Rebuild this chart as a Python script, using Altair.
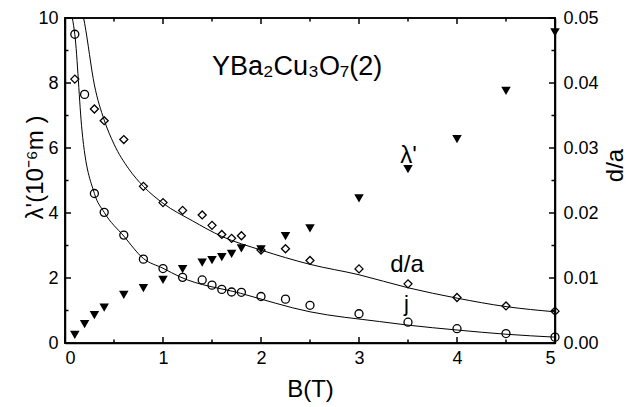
import altair as alt
import pandas as pd

# ---- data ----
lam_B = [0.1, 0.2, 0.3, 0.4, 0.6, 0.8, 1.0, 1.2, 1.4, 1.5, 1.6, 1.7, 1.8, 2.0, 2.25, 2.5, 3.0, 3.5, 4.0, 4.5, 5.0]
lam_v = [0.25, 0.58, 0.86, 1.09, 1.48, 1.69, 1.94, 2.27, 2.47, 2.55, 2.64, 2.74, 2.91, 2.88, 3.29, 3.53, 4.45, 5.35, 6.27, 7.76, 9.56]

j_B = [0.1, 0.2, 0.3, 0.4, 0.6, 0.8, 1.0, 1.2, 1.4, 1.5, 1.6, 1.7, 1.8, 2.0, 2.25, 2.5, 3.0, 3.5, 4.0, 4.5, 5.0]
j_v = [9.5, 7.65, 4.6, 4.02, 3.32, 2.58, 2.29, 2.02, 1.94, 1.78, 1.65, 1.57, 1.56, 1.43, 1.35, 1.16, 0.9, 0.64, 0.44, 0.29, 0.18]

da_B = [0.1, 0.3, 0.4, 0.6, 0.8, 1.0, 1.2, 1.4, 1.5, 1.6, 1.7, 1.8, 2.0, 2.25, 2.5, 3.0, 3.5, 4.0, 4.5, 5.0]
da_v = [0.0406, 0.0360, 0.0342, 0.0313, 0.0241, 0.0216, 0.0204, 0.0197, 0.0181, 0.0167, 0.0161, 0.0165,
        0.0143, 0.0145, 0.0127, 0.0114, 0.0091, 0.0070, 0.0057, 0.0049]

fit_da_B = [0.19, 0.2, 0.3, 0.4, 0.5, 0.65, 0.8, 1.0, 1.3, 1.6, 2.0, 2.5, 3.0, 3.5, 4.0, 4.5, 5.0]
fit_da_v = [0.0500, 0.0492, 0.0397, 0.0343, 0.0306, 0.0268, 0.0241, 0.0215, 0.0188, 0.0164, 0.0143,
            0.0121, 0.0105, 0.0085, 0.0069, 0.0056, 0.0048]
fit_j_B = [0.075, 0.1, 0.173, 0.3, 0.4, 0.6, 0.8, 1.0, 1.17, 1.79, 2.5, 3.21, 3.5, 4.0, 4.5, 5.0]
fit_j_v = [10.0, 9.5, 6.55, 4.6, 4.02, 3.29, 2.6, 2.3, 2.04, 1.53, 0.96, 0.66, 0.55, 0.40, 0.27, 0.18]

x_labels = [0, 1, 2, 3, 4, 5]
x_minor = [0.5, 1.5, 2.5, 3.5, 4.5]
yl_labels = [0, 2, 4, 6, 8, 10]
yl_minor = [1, 3, 5, 7, 9]
yr_labels = [0, 0.01, 0.02, 0.03, 0.04, 0.05]
yr_minor = [0.005, 0.015, 0.025, 0.035, 0.045]

ann_text = ["YBa₂Cu₃O₇(2)", "λ'", "d/a", "j"]
ann_B = [1.5, 3.42, 3.32, 3.46]
ann_y = [8.25, 5.55, 2.2, 0.98]
ann_size = [27, 24, 24, 22]

FONT = "Liberation Sans"
W, H = 490, 325
XMAX, YLMAX, YRMAX = 5.0, 10.0, 0.05
MAJ, MIN, LW = 6.0, 3.5, 1.5  # tick lengths and line width, pixels

lam_df = pd.DataFrame({"B": lam_B, "v": lam_v})
j_df = pd.DataFrame({"B": j_B, "v": j_v})
da_df = pd.DataFrame({"B": da_B, "v": da_v})
fda_df = pd.DataFrame({"B": fit_da_B, "v": fit_da_v})
fj_df = pd.DataFrame({"B": fit_j_B, "v": fit_j_v})
ann_df = pd.DataFrame({"t": ann_text, "B": ann_B, "v": ann_y, "s": ann_size})

xs = alt.Scale(domain=[0, XMAX], nice=False, zero=False)
yls = alt.Scale(domain=[0, YLMAX], nice=False, zero=False)
yrs = alt.Scale(domain=[0, YRMAX], nice=False, zero=False)

lab = dict(labelFont=FONT, labelFontSize=18, labelColor="black", titleFont=FONT,
           titleFontWeight="normal", titleColor="black", grid=False, ticks=False, tickSize=0,
           domain=True, domainColor="black", domainWidth=1.5)

tri = alt.Chart(lam_df).mark_point(shape="triangle-down", filled=True, color="black", size=90, opacity=1).encode(
    x=alt.X("B:Q", scale=xs, axis=alt.Axis(orient="bottom", values=x_labels, title="B(T)",
                                            labelPadding=6, titleFontSize=24, titlePadding=10, **lab)),
    y=alt.Y("v:Q", scale=yls, axis=alt.Axis(orient="left", values=yl_labels, title="λ'(10⁻⁶m )",
                                             labelPadding=7, titleFontSize=24, titleAngle=-90,
                                             titleX=-30, titleY=149, titleAlign="center",
                                             titleBaseline="middle", **lab)),
)

circ = alt.Chart(j_df).mark_point(shape="circle", filled=False, color="black", size=64, strokeWidth=1.3, opacity=1).encode(
    x=alt.X("B:Q", scale=xs, axis=None),
    y=alt.Y("v:Q", scale=yls, axis=None),
)

dia = alt.Chart(da_df).mark_point(shape="diamond", filled=False, color="black", size=64, strokeWidth=1.3, opacity=1).encode(
    x=alt.X("B:Q", scale=xs, axis=None),
    y=alt.Y("v:Q", scale=yrs, axis=alt.Axis(orient="right", values=yr_labels, format=".2f", title="d/a",
                                             labelPadding=8, titleFontSize=24, titleAngle=-90,
                                             titleX=60, titleY=147, titleAlign="center",
                                             titleBaseline="middle", **lab)),
)

fda = alt.Chart(fda_df).mark_line(color="black", strokeWidth=1, interpolate="monotone", clip=True).encode(
    x=alt.X("B:Q", scale=xs, axis=None),
    y=alt.Y("v:Q", scale=yrs, axis=None),
)

fj = alt.Chart(fj_df).mark_line(color="black", strokeWidth=1, interpolate="monotone", clip=True).encode(
    x=alt.X("B:Q", scale=xs, axis=None),
    y=alt.Y("v:Q", scale=yls, axis=None),
)

ann = alt.Chart(ann_df).mark_text(font=FONT, color="black", baseline="alphabetic", align="left").encode(
    x=alt.X("B:Q", scale=xs, axis=None),
    y=alt.Y("v:Q", scale=yls, axis=None),
    text="t:N",
    size=alt.Size("s:Q", scale=None, legend=None),
)

# ---- frame and inward ticks drawn as thin filled rectangles (left-axis units) ----
px_x = XMAX / W      # data units per pixel, horizontally
px_y = YLMAX / H     # data units per pixel, vertically (left scale)
hw_x = LW / 2 * px_x
hw_y = LW / 2 * px_y
rects = [
    (-hw_x, XMAX + hw_x, -hw_y, hw_y),                 # bottom edge
    (-hw_x, XMAX + hw_x, YLMAX - hw_y, YLMAX + hw_y),   # top edge
    (-hw_x, hw_x, -hw_y, YLMAX + hw_y),                # left edge
    (XMAX - hw_x, XMAX + hw_x, -hw_y, YLMAX + hw_y),   # right edge
]
for vals, L in ((x_labels, MAJ), (x_minor, MIN)):
    for t in vals:
        rects.append((t - hw_x, t + hw_x, 0.0, L * px_y))
        rects.append((t - hw_x, t + hw_x, YLMAX - L * px_y, YLMAX))
for vals, L in ((yl_labels, MAJ), (yl_minor, MIN)):
    for t in vals:
        rects.append((0.0, L * px_x, t - hw_y, t + hw_y))
for vals, L in ((yr_labels, MAJ), (yr_minor, MIN)):
    for t in vals:
        tl = t / YRMAX * YLMAX  # right-axis value on the left scale
        rects.append((XMAX - L * px_x, XMAX, tl - hw_y, tl + hw_y))

rect_df = pd.DataFrame(rects, columns=["x1", "x2", "y1", "y2"])
frame = alt.Chart(rect_df).mark_rect(color="black", opacity=1, clip=False).encode(
    x=alt.X("x1:Q", scale=xs, axis=None), x2="x2:Q",
    y=alt.Y("y1:Q", scale=yls, axis=None), y2="y2:Q",
)

chart = alt.layer(frame, fj, fda, tri, circ, dia, ann).resolve_scale(
    x="independent", y="independent"
).properties(
    width=W, height=H,
    autosize=alt.AutoSizeParams(type="none"),
    padding={"left": 65, "top": 18, "right": 72, "bottom": 64},
    background="white",
).configure_view(stroke="black", strokeWidth=1.5)

chart.save("out.html", embed_options={"renderer": "svg", "actions": False})
